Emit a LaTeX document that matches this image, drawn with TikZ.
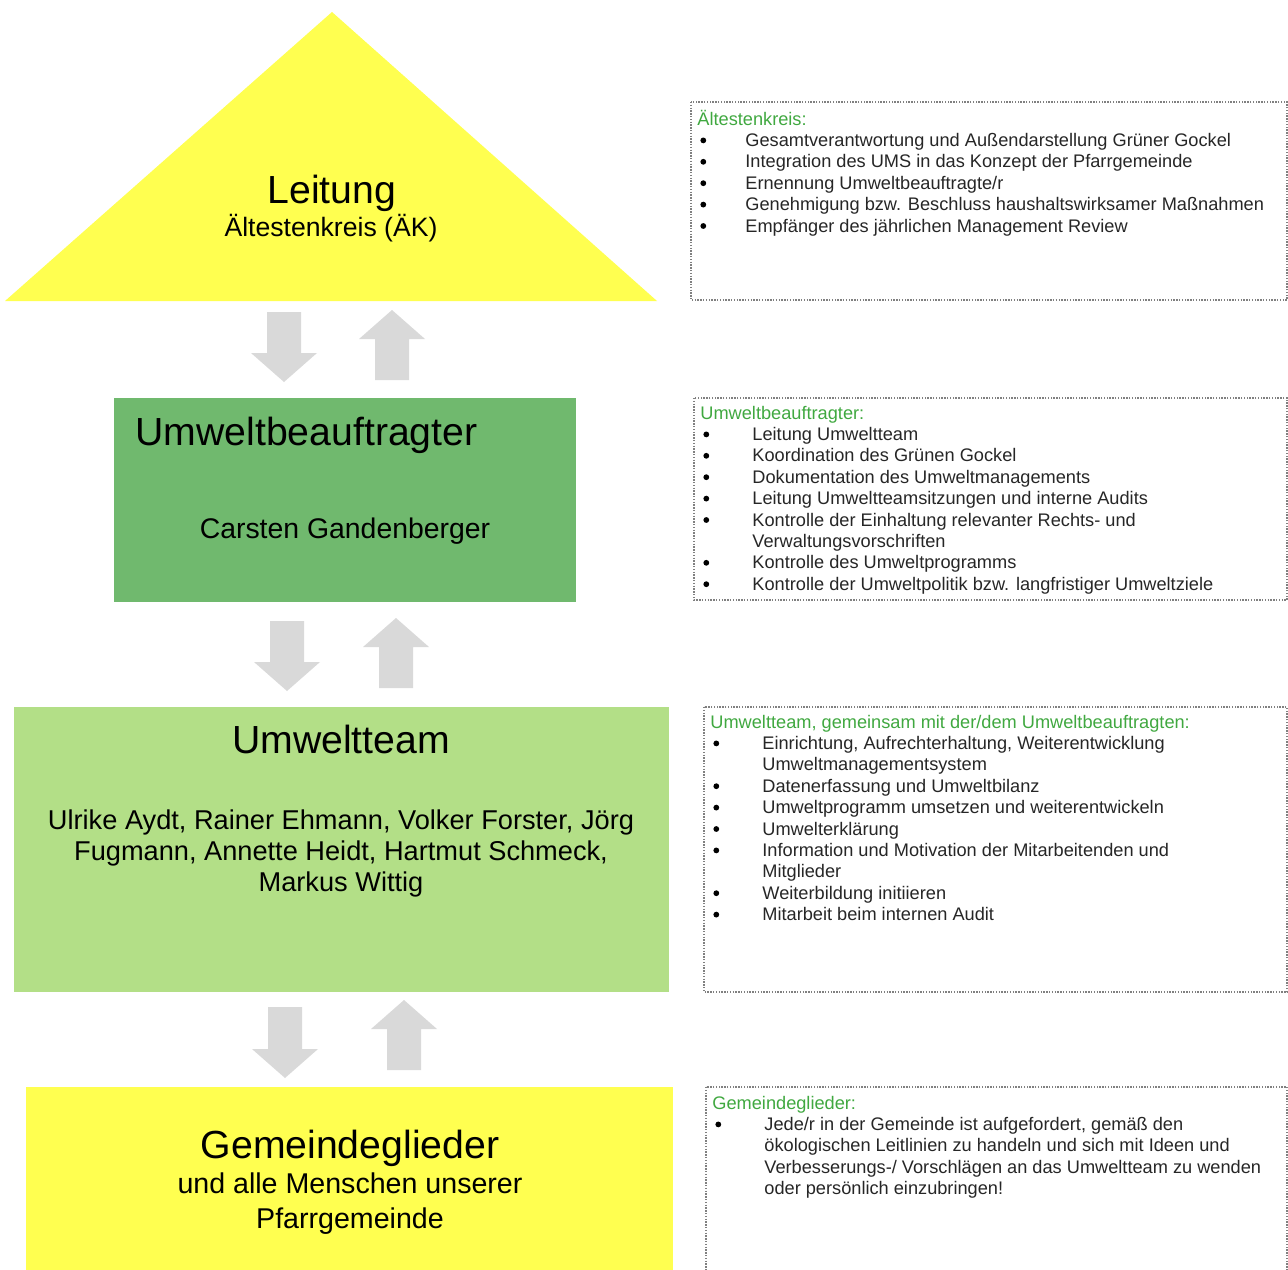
\documentclass[tikz,border=0pt]{standalone}
\usepackage{fontspec}
\setmainfont{Liberation Sans}
\usetikzlibrary{positioning}
\definecolor{leityellow}{RGB}{255,255,80}
\definecolor{beaufgreen}{RGB}{112,185,110}
\definecolor{teamgreen}{RGB}{179,223,135}
\definecolor{headgreen}{RGB}{64,168,64}
\definecolor{arrowgray}{RGB}{217,217,217}
\definecolor{dotgray}{RGB}{128,128,128}
\tikzstyle{titletext}=[inner sep=0pt, anchor=base, font=\fontsize{19.6}{23}\selectfont]
\tikzstyle{subtext}=[inner sep=0pt, anchor=base, font=\fontsize{14.2}{15.5}\selectfont]
\tikzstyle{infobox}=[draw=dotgray, line width=0.7pt, dash pattern=on 0.7pt off 0.7pt]
\tikzstyle{infotext}=[inner sep=0pt, anchor=base west, text=black!85, font=\fontsize{9.1}{10.7}\selectfont]
\tikzstyle{grayarrow}=[fill=arrowgray, draw=none]
\newcommand{\infohead}[1]{\multicolumn{2}{@{}l@{}}{\color{headgreen}#1}}
\newcommand{\itemdot}{\hspace{1.5pt}\tikz[baseline=-3pt]\fill[black] (0,0) circle (1.45pt);}
% block arrows: centre x, top y, tip y
\newcommand{\blockdown}[3]{\fill[grayarrow] (#1-17,#2) -- (#1+17,#2) -- (#1+17,#3-29) -- (#1+33,#3-29) -- (#1,#3) -- (#1-33,#3-29) -- (#1-17,#3-29) -- cycle;}
% centre x, tip y, bottom y
\newcommand{\blockup}[3]{\fill[grayarrow] (#1,#2) -- (#1+33,#2+29) -- (#1+17,#2+29) -- (#1+17,#3) -- (#1-17,#3) -- (#1-17,#2+29) -- (#1-33,#2+29) -- cycle;}

\begin{document}
\begin{tikzpicture}[x=0.5pt,y=-0.5pt]
    \useasboundingbox (0,0) rectangle (1288,1269);
    \clip (0,0) rectangle (1288,1269);

    % Leitung
    \fill[leityellow] (5,301) -- (332,12) -- (657,301) -- cycle;
    \node[titletext] (leitung) at (332,203) {Leitung};
    \node[subtext, font=\fontsize{13.3}{16}\selectfont] (aek) at (331,236) {Ältestenkreis (ÄK)};

    % Umweltbeauftragter
    \fill[beaufgreen] (114,398) rectangle (576,602);
    \node[titletext, anchor=base west] (beauf) at (135,445) {Umweltbeauftragter};
    \node[subtext] (carsten) at (345,538) {Carsten Gandenberger};

    % Umweltteam
    \fill[teamgreen] (14,707) rectangle (669,992);
    \node[titletext] (team) at (341,753) {Umweltteam};
    \node[subtext, font=\fontsize{13.6}{15.5}\selectfont] (names) at (341,829) {\begin{tabular}[t]{@{}c@{}}Ulrike Aydt, Rainer Ehmann, Volker Forster, Jörg\\Fugmann, Annette Heidt, Hartmut Schmeck,\\Markus Wittig\end{tabular}};

    % Gemeindeglieder
    \fill[leityellow] (26,1087) rectangle (673,1280);
    \node[titletext] (gemeinde) at (350,1158) {Gemeindeglieder};
    \node[subtext, font=\fontsize{14.3}{17.5}\selectfont] (menschen) at (350,1193) {\begin{tabular}[t]{@{}c@{}}und alle Menschen unserer\\Pfarrgemeinde\end{tabular}};

    % arrows
    \blockdown{284}{312}{382}
    \blockup{392}{310}{380}
    \blockdown{287}{621}{691}
    \blockup{396}{618}{688}
    \blockdown{285}{1007}{1078}
    \blockup{404}{1000}{1070}

    % info boxes
    \draw[infobox] (691,102) rectangle (1287,300);
    \node[infotext] (aekinfo) at (697,125) {\begin{tabular}[t]{@{}p{24pt}@{}l@{}}
        \infohead{Ältestenkreis:}\\
        \itemdot & Gesamtverantwortung und Außendarstellung Grüner Gockel\\
        \itemdot & Integration des UMS in das Konzept der Pfarrgemeinde\\
        \itemdot & Ernennung Umweltbeauftragte/r\\
        \itemdot & Genehmigung bzw. Beschluss haushaltswirksamer Maßnahmen\\
        \itemdot & Empfänger des jährlichen Management Review
    \end{tabular}};

    \draw[infobox] (694,398) rectangle (1287,600);
    \node[infotext] (beaufinfo) at (700,419) {\begin{tabular}[t]{@{}p{26pt}@{}l@{}}
        \infohead{Umweltbeauftragter:}\\
        \itemdot & Leitung Umweltteam\\
        \itemdot & Koordination des Grünen Gockel\\
        \itemdot & Dokumentation des Umweltmanagements\\
        \itemdot & Leitung Umweltteamsitzungen und interne Audits\\
        \itemdot & Kontrolle der Einhaltung relevanter Rechts- und\\
                 & Verwaltungsvorschriften\\
        \itemdot & Kontrolle des Umweltprogramms\\
        \itemdot & Kontrolle der Umweltpolitik bzw. langfristiger Umweltziele
    \end{tabular}};

    \draw[infobox] (704,707) rectangle (1287,992);
    \node[infotext] (teaminfo) at (710,728) {\begin{tabular}[t]{@{}p{26pt}@{}l@{}}
        \infohead{Umweltteam, gemeinsam mit der/dem Umweltbeauftragten:}\\
        \itemdot & Einrichtung, Aufrechterhaltung, Weiterentwicklung\\
                 & Umweltmanagementsystem\\
        \itemdot & Datenerfassung und Umweltbilanz\\
        \itemdot & Umweltprogramm umsetzen und weiterentwickeln\\
        \itemdot & Umwelterklärung\\
        \itemdot & Information und Motivation der Mitarbeitenden und\\
                 & Mitglieder\\
        \itemdot & Weiterbildung initiieren\\
        \itemdot & Mitarbeit beim internen Audit
    \end{tabular}};

    \draw[infobox] (706,1087) rectangle (1287,1290);
    \node[infotext] (gemeindeinfo) at (712,1109) {\begin{tabular}[t]{@{}p{26pt}@{}l@{}}
        \infohead{Gemeindeglieder:}\\
        \itemdot & Jede/r in der Gemeinde ist aufgefordert, gemäß den\\
                 & ökologischen Leitlinien zu handeln und sich mit Ideen und\\
                 & Verbesserungs-/ Vorschlägen an das Umweltteam zu wenden\\
                 & oder persönlich einzubringen!
    \end{tabular}};
\end{tikzpicture}
\end{document}
